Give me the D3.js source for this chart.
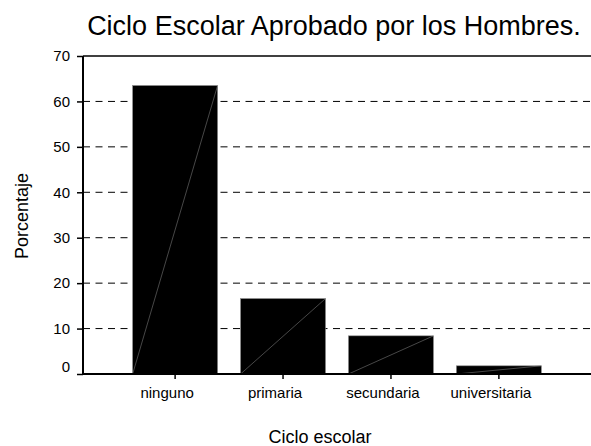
<!DOCTYPE html>
<html>
<head>
<meta charset="utf-8">
<script src="https://cdn.jsdelivr.net/npm/d3@7"></script>
<style>
  body { margin: 0; background: #fff; }
  text { font-family: "Liberation Sans", Arial, sans-serif; fill: #000; }
</style>
</head>
<body>
<svg id="chart" width="591" height="446"></svg>
<script>
// data
var categories = ["ninguno", "primaria", "secundaria", "universitaria"];
var values = [63.5, 16.6, 8.4, 1.8];
var yTicks = [0, 10, 20, 30, 40, 50, 60, 70];

var svg = d3.select("#chart");
var plotLeft = 83, plotRight = 591, plotTop = 56, plotBottom = 374;

var x = d3.scaleBand()
  .domain(categories)
  .range([plotLeft, plotRight])
  .paddingInner(0.213)
  .paddingOuter(0.46);

var y = d3.scaleLinear()
  .domain([0, 70])
  .range([plotBottom, plotTop]);

// dashed grid lines
svg.append("g")
  .selectAll("line")
  .data(yTicks.filter(d => d > 0 && d < 70))
  .join("line")
  .attr("x1", plotLeft)
  .attr("x2", plotRight)
  .attr("y1", d => y(d))
  .attr("y2", d => y(d))
  .attr("stroke", "#000")
  .attr("stroke-width", 1)
  .attr("stroke-dasharray", "7,5.5");

// top border line
svg.append("line")
  .attr("x1", plotLeft).attr("x2", plotRight)
  .attr("y1", y(70)).attr("y2", y(70))
  .attr("stroke", "#000").attr("stroke-width", 1.5);

// bars
var bars = svg.append("g")
  .selectAll("g")
  .data(categories.map((c, i) => ({ name: c, value: values[i] })))
  .join("g");

bars.append("rect")
  .attr("x", d => x(d.name))
  .attr("y", d => y(d.value))
  .attr("width", x.bandwidth())
  .attr("height", d => y(0) - y(d.value))
  .attr("fill", "#000")
  .attr("stroke", "#888")
  .attr("stroke-width", 0.6);

// thin diagonal artefact in each bar
bars.append("line")
  .attr("x1", d => x(d.name))
  .attr("y1", y(0))
  .attr("x2", d => x(d.name) + x.bandwidth())
  .attr("y2", d => y(d.value))
  .attr("stroke", "#777")
  .attr("stroke-width", 0.6);

// y axis
var yAxis = svg.append("g")
  .attr("transform", `translate(${plotLeft},0)`)
  .call(d3.axisLeft(y).tickValues(yTicks).tickSize(6).tickPadding(7));
yAxis.select(".domain").attr("stroke-width", 2).attr("d", `M0,${y(70)}V${plotBottom + 1}`);
yAxis.selectAll(".tick line").attr("stroke-width", 1.5);
yAxis.selectAll("text")
  .attr("font-size", 15)
  .attr("font-family", "Liberation Sans, Arial, sans-serif")
  .attr("dy", d => d === 0 ? "-0.15em" : "0.32em");

// x axis (labels sit a little left of their ticks in the original)
var xAxis = svg.append("g")
  .attr("transform", `translate(0,${plotBottom})`)
  .call(d3.axisBottom(x).tickSize(5).tickPadding(8));
xAxis.select(".domain").attr("stroke-width", 2).attr("d", `M${plotLeft},0H${plotRight}`);
xAxis.selectAll(".tick line").attr("stroke-width", 1.5);
xAxis.selectAll("text")
  .attr("font-size", 15)
  .attr("font-family", "Liberation Sans, Arial, sans-serif")
  .attr("dx", -8);

// title
svg.append("text")
  .attr("x", 334)
  .attr("y", 35)
  .attr("text-anchor", "middle")
  .attr("font-size", 27)
  .text("Ciclo Escolar Aprobado por los Hombres.");

// axis titles
svg.append("text")
  .attr("x", 320)
  .attr("y", 443)
  .attr("text-anchor", "middle")
  .attr("font-size", 18)
  .text("Ciclo escolar");

svg.append("text")
  .attr("transform", "translate(28,216) rotate(-90)")
  .attr("text-anchor", "middle")
  .attr("font-size", 18)
  .text("Porcentaje");
</script>
</body>
</html>
